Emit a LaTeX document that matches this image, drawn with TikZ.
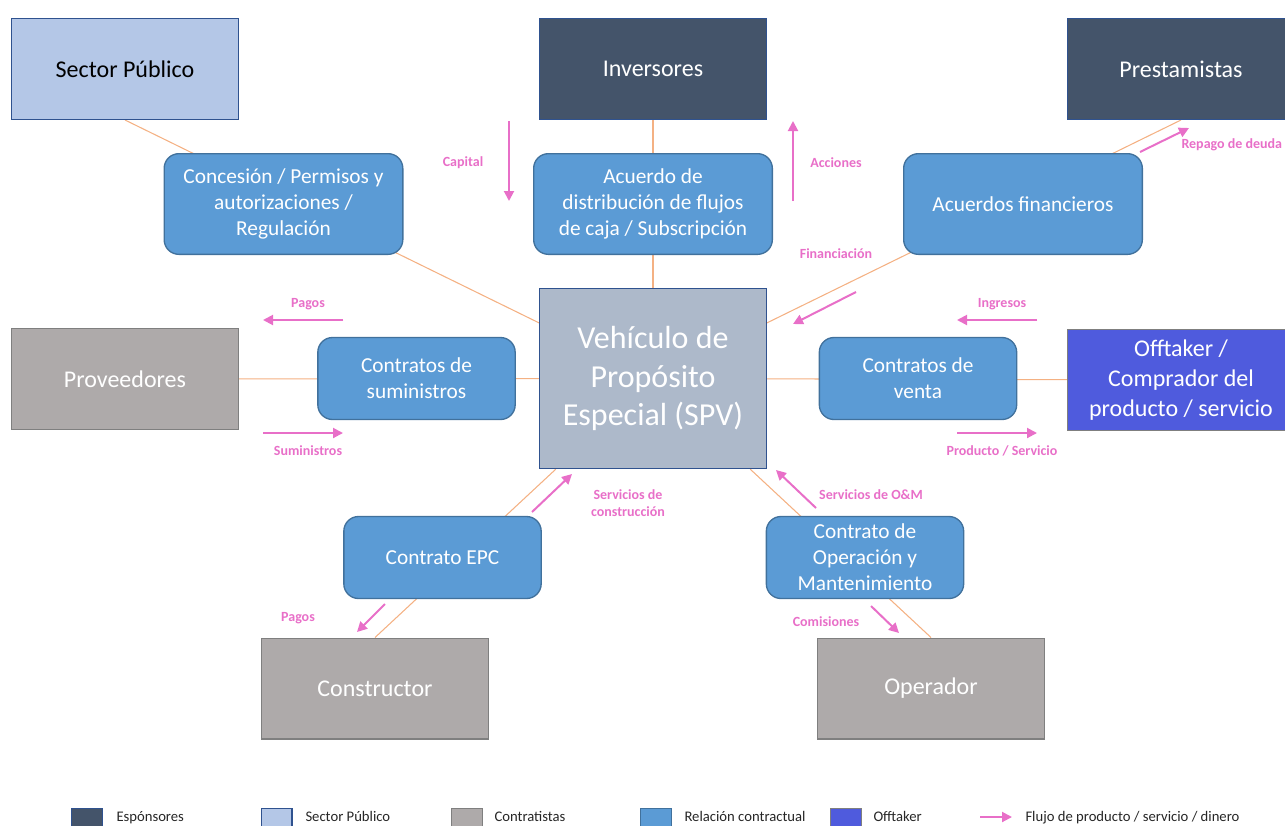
\documentclass[tikz,border=0pt]{standalone}
\usepackage{fontspec}
\setmainfont{Carlito}
\usetikzlibrary{arrows.meta,backgrounds,positioning}

\definecolor{sponsorfill}{HTML}{44546A}
\definecolor{boxline}{HTML}{2F528F}
\definecolor{publicfill}{HTML}{B4C7E7}
\definecolor{contractorfill}{HTML}{AEAAAA}
\definecolor{grayline}{HTML}{7F7F7F}
\definecolor{contractfill}{HTML}{5B9BD5}
\definecolor{contractline}{HTML}{41719C}
\definecolor{spvfill}{HTML}{ADB9CA}
\definecolor{offtakerfill}{HTML}{4F5BDD}
\definecolor{flowpink}{HTML}{E86FC8}
\definecolor{linkorange}{HTML}{F4B183}

\begin{document}
\begin{tikzpicture}[x=0.75pt,y=-0.75pt,>={Triangle[length=7.5pt,width=7.5pt]},
                    line width=0.75pt]
  \tikzstyle{party}=[rectangle,draw=boxline,line width=1pt,minimum width=170pt,minimum height=75.5pt,text=white,align=center,font=\fontsize{18}{22.5}\selectfont]
  \tikzstyle{sponsor}=[party,fill=sponsorfill]
  \tikzstyle{public}=[party,fill=publicfill,text=black]
  \tikzstyle{contractor}=[party,fill=contractorfill,draw=grayline]
  \tikzstyle{offtaker}=[party,fill=offtakerfill,draw=grayline]
  \tikzstyle{vehicle}=[party,fill=spvfill,minimum height=135pt,font=\fontsize{24}{29}\selectfont]
  \tikzstyle{contract}=[rectangle,rounded corners=11pt,draw=contractline,fill=contractfill,line width=1pt,text=white,align=center,font=\fontsize{16}{19.5}\selectfont,minimum width=148pt,minimum height=61.5pt]
  \tikzstyle{bigcontract}=[contract,minimum width=179pt,minimum height=75.5pt]
  \tikzstyle{link}=[draw=linkorange,line width=0.8pt]
  \tikzstyle{flow}=[->,draw=flowpink,fill=flowpink,line width=1.5pt]
  \tikzstyle{flowlabel}=[text=flowpink,font=\fontsize{10.5}{12.5}\selectfont\bfseries,align=center,inner sep=0pt]
  \tikzstyle{legendbox}=[rectangle,line width=1pt,minimum width=23pt,minimum height=16pt]
  \tikzstyle{legendtext}=[anchor=base west,font=\fontsize{11}{13}\selectfont,inner sep=0pt,text=black!85]

  \useasboundingbox (0,0) rectangle (1285,825);

  % parties
  \node[public]     (sector)      at (125,69)    {Sector Público};
  \node[sponsor]    (inversores)  at (653,69)    {Inversores};
  \node[sponsor]    (prestamistas) at (1181,69)  {Prestamistas};
  \node[contractor] (proveedores) at (125,379)   {Proveedores};
  \node[vehicle]    (spv)         at (653,378.5) {Vehículo de\\Propósito\\Especial (SPV)};
  \node[offtaker]   (offtaker)    at (1181,380)  {Offtaker /\\Comprador del\\producto / servicio};
  \node[contractor] (constructor) at (375,688.5) {Constructor};
  \node[contractor] (operador)    at (931,688.5) {Operador};

  % contracts
  \node[bigcontract] (concesion)   at (283.5,204) {Concesión / Permisos y\\autorizaciones /\\Regulación};
  \node[bigcontract] (acuerdo)     at (653,204)   {Acuerdo de\\distribución de flujos\\de caja / Subscripción};
  \node[bigcontract] (financieros) at (1023,204)  {Acuerdos financieros};
  \node[contract]    (suministros) at (416.5,378.5) {Contratos de\\suministros};
  \node[contract]    (venta)       at (918,378.5)   {Contratos de\\venta};
  \node[contract]    (epc)         at (442.5,557.5) {Contrato EPC};
  \node[contract]    (om)          at (865,557.5)   {Contrato de\\Operación y\\Mantenimiento};

  \begin{scope}[on background layer]
    \draw[link] (sector.south) -- (spv);
    \draw[link] (inversores) -- (spv);
    \draw[link] (prestamistas.south) -- (spv);
    \draw[link] (proveedores) -- (spv);
    \draw[link] (spv) -- (offtaker);
    \draw[link] (constructor.north) -- (spv);
    \draw[link] (operador.north) -- (spv);
  \end{scope}

  % flows
  \coordinate (capA) at (509,121);   \coordinate (capB) at (509,201);
  \coordinate (accA) at (793,201);   \coordinate (accB) at (793,121);
  \coordinate (repA) at (1140,152);  \coordinate (repB) at (1189,128);
  \coordinate (finA) at (856,292);   \coordinate (finB) at (793,324);
  \coordinate (pagA) at (343,320);   \coordinate (pagB) at (263,320);
  \coordinate (sumA) at (263,433);   \coordinate (sumB) at (343,433);
  \coordinate (ingA) at (1037,320);  \coordinate (ingB) at (957,320);
  \coordinate (proA) at (957,433);   \coordinate (proB) at (1037,433);
  \coordinate (conA) at (532,512);   \coordinate (conB) at (572,474);
  \coordinate (omA)  at (816,508);   \coordinate (omB)  at (776,470);
  \coordinate (pgbA) at (385,604);   \coordinate (pgbB) at (357,632);
  \coordinate (comA) at (871,606);   \coordinate (comB) at (899,633);

  \draw[flow] (capA) -- (capB);
  \draw[flow] (accA) -- (accB);
  \draw[flow] (repA) -- (repB);
  \draw[flow] (finA) -- (finB);
  \draw[flow] (pagA) -- (pagB);
  \draw[flow] (sumA) -- (sumB);
  \draw[flow] (ingA) -- (ingB);
  \draw[flow] (proA) -- (proB);
  \draw[flow] (conA) -- (conB);
  \draw[flow] (omA) -- (omB);
  \draw[flow] (pgbA) -- (pgbB);
  \draw[flow] (comA) -- (comB);

  \node[flowlabel] (l-capital)     at (463,163)  {Capital};
  \node[flowlabel] (l-acciones)    at (836,163)  {Acciones};
  \node[flowlabel,anchor=west] (l-repago) at (1181,145) {Repago de deuda};
  \node[flowlabel] (l-financiacion) at (836,254) {Financiación};
  \node[flowlabel] (l-pagos)       at (308,304)  {Pagos};
  \node[flowlabel] (l-suministros) at (308,451)  {Suministros};
  \node[flowlabel] (l-ingresos)    at (1002,304) {Ingresos};
  \node[flowlabel] (l-producto)    at (1002,451) {Producto / Servicio};
  \node[flowlabel] (l-construccion) at (628,503) {Servicios de\\construcción};
  \node[flowlabel] (l-servom)      at (871,495)  {Servicios de O\&M};
  \node[flowlabel] (l-pagosb)      at (298,618)  {Pagos};
  \node[flowlabel] (l-comisiones)  at (826,622)  {Comisiones};

  % legend
  \node[legendbox,fill=sponsorfill,draw=boxline]       (key-sponsor)    at (87,819)  {};
  \node[legendbox,fill=publicfill,draw=boxline]        (key-public)     at (276.5,819) {};
  \node[legendbox,fill=contractorfill,draw=grayline]   (key-contractor) at (467,819) {};
  \node[legendbox,fill=contractfill,draw=contractline] (key-contract)   at (656,819) {};
  \node[legendbox,fill=offtakerfill,draw=grayline]     (key-offtaker)   at (846,819) {};
  \node[legendtext] (key-sponsor-text)    at (116,821) {Espónsores};
  \node[legendtext] (key-public-text)     at (305,821) {Sector Público};
  \node[legendtext] (key-contractor-text) at (494,821) {Contratistas};
  \node[legendtext] (key-contract-text)   at (684,821) {Relación contractual};
  \node[legendtext] (key-offtaker-text)   at (873,821) {Offtaker};
  \coordinate (key-flowA) at (980,817);
  \coordinate (key-flowB) at (1012,817);
  \draw[flow] (key-flowA) -- (key-flowB);
  \node[legendtext] (key-flow-text) at (1025,821) {Flujo de producto / servicio / dinero};
\end{tikzpicture}
\end{document}
